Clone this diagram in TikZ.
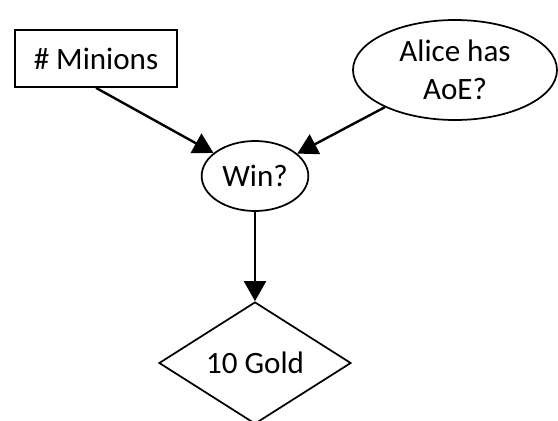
\documentclass[tikz,border=0pt]{standalone}
\usepackage{fontspec}
\setmainfont{Carlito}
\usetikzlibrary{shapes.geometric,arrows.meta}
\begin{document}
\begin{tikzpicture}[x=0.75pt,y=-0.75pt,
  every node/.style={font=\fontsize{23.3}{28.5}\selectfont, inner sep=0pt, line width=1.3pt, draw=black},
  conn/.style={line width=1.8pt, -{Triangle[length=15pt,width=16.5pt]}}]
\useasboundingbox (0,0) rectangle (558,421);
\node[rectangle, minimum width=121.5pt, minimum height=42.75pt] (m) at (96,58.5) {\# Minions};
\node[ellipse, minimum width=153pt, minimum height=75pt, align=center] (a) at (455,70) {Alice has\\AoE?};
\node[ellipse, minimum width=80pt, minimum height=52.5pt] (w) at (255,176) {Win?};
\node[diamond, minimum width=144pt, minimum height=91.5pt] (d) at (255,363) {10 Gold};
\draw[conn] (m.south) -- (w);
\draw[conn] (a) -- (w);
\draw[conn] (w) -- (d);
\end{tikzpicture}
\end{document}
